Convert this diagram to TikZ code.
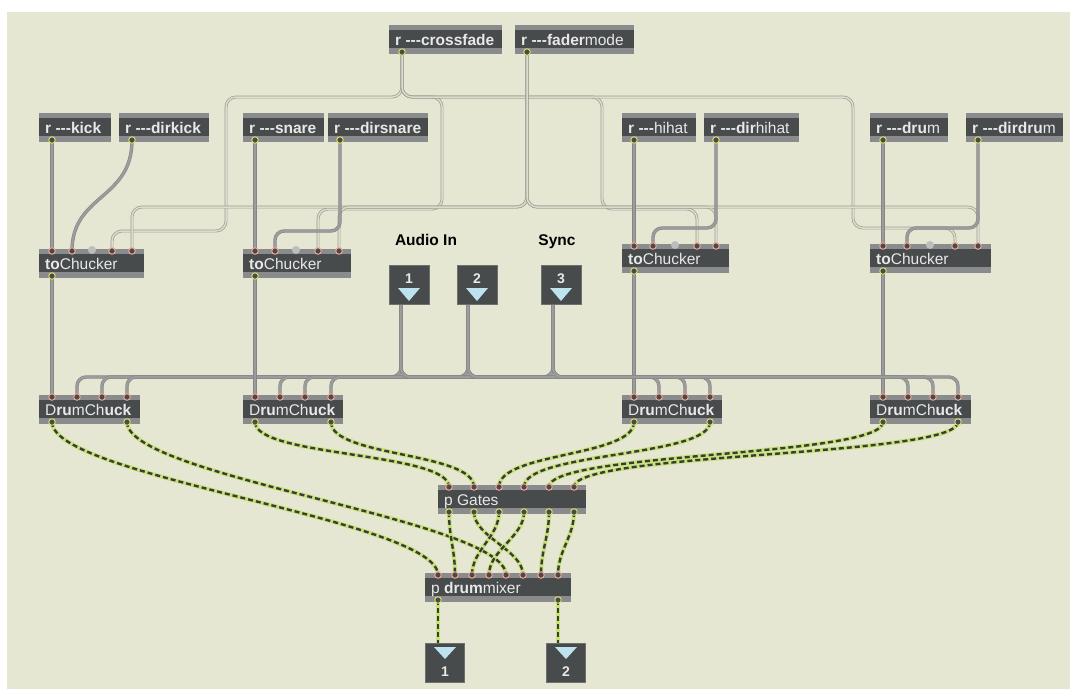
\documentclass[tikz,border=0pt]{standalone}
\usepackage{fontspec}
\setmainfont{Liberation Sans}[Ligatures=TeXOff]
\usetikzlibrary{calc}

\definecolor{bgbeige}{HTML}{E5E7D2}
\definecolor{boxdark}{HTML}{474B4B}
\definecolor{stripgray}{HTML}{8A8B8C}
\definecolor{objtxt}{HTML}{E8E8E8}
\definecolor{inpink}{HTML}{F2A595}
\definecolor{outyel}{HTML}{D8DA6C}
\definecolor{deadgray}{HTML}{BDBDBD}
\definecolor{ctlcord}{HTML}{9C9C9C}
\definecolor{ctledge}{HTML}{868686}
\definecolor{msgedge}{HTML}{9E9E95}
\definecolor{msgfill}{HTML}{DCDDCB}
\definecolor{sigbase}{HTML}{C8E27C}
\definecolor{sigdash}{HTML}{3A3D36}
\definecolor{tri}{HTML}{BEE3EF}
\definecolor{iogray}{HTML}{6E7070}

\pgfdeclarelayer{back}
\pgfdeclarelayer{cords}
\pgfsetlayers{back,cords,main}

\tikzset{
  objbox/.style={fill=stripgray, draw=none, minimum height=29pt, inner sep=0pt,
    anchor=north west,
    path picture={\fill[boxdark] ([yshift=-5pt]path picture bounding box.north west)
      rectangle ([yshift=6pt]path picture bounding box.south east);}},
  objtext/.style={text=objtxt, font=\fontsize{15.5}{16}\selectfont, anchor=base west, inner sep=0pt},
  inring/.style={circle, draw=inpink, fill=boxdark, line width=1pt, minimum size=6.5pt, inner sep=0pt},
  outring/.style={circle, draw=outyel, fill=boxdark, line width=1pt, minimum size=6.5pt, inner sep=0pt},
  deadin/.style={circle, fill=deadgray, minimum size=8pt, inner sep=0pt},
  iobox/.style={fill=boxdark, draw=iogray, line width=0.8pt, minimum width=40pt,
    minimum height=39pt, inner sep=0pt, anchor=north west},
  ionum/.style={text=objtxt, font=\bfseries\fontsize{14}{14}\selectfont, anchor=base, inner sep=0pt},
  label/.style={text=black, font=\bfseries\fontsize{15.5}{16}\selectfont, anchor=base, inner sep=0pt},
  ctl/.style={draw=ctledge, line width=0.6pt, double=ctlcord, double distance=2.2pt},
  msgcord/.style={draw=msgedge, line width=0.7pt, double=msgfill, double distance=1.5pt, rounded corners=10pt},
  sig/.style={draw=sigbase, line width=4.2pt,
    postaction={draw=sigdash, line width=2.4pt, dash pattern=on 5pt off 3pt}},
}

% a patcher object: name, x, y, width, text
\newcommand\patchobj[5]{%
  \node[objbox, minimum width=#4pt] (#1) at (#2,#3) {};
  \node[objtext] (#1-t) at (#2+6,#3+20) {#5};}
\newcommand\inp[3]{\node[inring] (#1) at (#2,#3) {};}
\newcommand\outp[3]{\node[outring] (#1) at (#2,#3) {};}
\newcommand\deadp[3]{\node[deadin] (#1) at (#2,#3) {};}
\newcommand\sigcord[3]{\draw[sig] (#1.center) .. controls ($(#1.center)+(0,#3)$)
  and ($(#2.center)+(0,-#3)$) .. (#2.center);}

\begin{document}
\begin{tikzpicture}[x=1pt,y=-1pt]
\useasboundingbox (0,0) rectangle (1070,689);
\begin{pgfonlayer}{back}
  \fill[white] (0,0) rectangle (1070,689);
  \fill[bgbeige] (7,12) rectangle (1070,689);
\end{pgfonlayer}

% routing levels
\coordinate (lv97) at (0,97);
\coordinate (lv207) at (0,207);
\coordinate (lv209) at (0,209);
\coordinate (lv228) at (0,228);
\coordinate (lv231) at (0,231);
\coordinate (bus) at (0,377);
\coordinate (xA) at (226,0);
\coordinate (xB) at (442,0);
\coordinate (xC) at (602,0);
\coordinate (xD) at (853,0);

% receive objects
\patchobj{cf}{389}{25}{113}{\textbf{r ---crossfade}}
\patchobj{fm}{515}{25}{119}{\textbf{r ---fader}mode}
\patchobj{kick}{39}{113}{72}{\textbf{r ---kick}}
\patchobj{dirkick}{119}{113}{90}{\textbf{r ---dirkick}}
\patchobj{snare}{243}{113}{81}{\textbf{r ---snare}}
\patchobj{dirsnare}{328}{113}{100}{\textbf{r ---dirsnare}}
\patchobj{hihat}{622}{113}{74}{\textbf{r ---}hihat}
\patchobj{dirhihat}{704}{113}{95}{\textbf{r ---dir}hihat}
\patchobj{drum}{870}{113}{78}{\textbf{r ---dru}m}
\patchobj{dirdrum}{966}{113}{97}{\textbf{r ---dirdru}m}
\outp{cf-o}{402}{52}
\outp{fm-o}{527}{52}
\outp{kick-o}{52}{140}
\outp{dirkick-o}{132}{140}
\outp{snare-o}{255}{140}
\outp{dirsnare-o}{340}{140}
\outp{hihat-o}{634}{140}
\outp{dirhihat-o}{716}{140}
\outp{drum-o}{883}{140}
\outp{dirdrum-o}{978}{140}

% toChucker objects
\patchobj{tc1}{39}{249}{105}{\textbf{to}Chucker}
\patchobj{tc2}{243}{249}{108}{\textbf{to}Chucker}
\patchobj{tc3}{622}{244}{107}{\textbf{to}Chucker}
\patchobj{tc4}{870}{244}{121}{\textbf{to}Chucker}
\inp{tc1-i1}{52}{251}\inp{tc1-i2}{72}{251}\deadp{tc1-i3}{92}{250}\inp{tc1-i4}{112}{251}\inp{tc1-i5}{132}{251}
\inp{tc2-i1}{255}{251}\inp{tc2-i2}{275}{251}\deadp{tc2-i3}{296}{250}\inp{tc2-i4}{318}{251}\inp{tc2-i5}{339}{251}
\inp{tc3-i1}{634}{246}\inp{tc3-i2}{653}{246}\deadp{tc3-i3}{675}{245}\inp{tc3-i4}{697}{246}\inp{tc3-i5}{716}{246}
\inp{tc4-i1}{883}{246}\inp{tc4-i2}{907}{246}\deadp{tc4-i3}{930}{245}\inp{tc4-i4}{955}{246}\inp{tc4-i5}{978}{246}
\outp{tc1-o}{52}{276}\outp{tc2-o}{255}{276}\outp{tc3-o}{634}{271}\outp{tc4-o}{883}{271}

% audio and sync inlets
\node[label] (audiolbl) at (426,245) {Audio In};
\node[label] (synclbl) at (557,245) {Sync};
\node[iobox] (ain1) at (389,265) {};
\node[iobox] (ain2) at (457,265) {};
\node[iobox] (ain3) at (541,265) {};
\node[ionum] (ain1-n) at (409,283) {1};
\node[ionum] (ain2-n) at (477,283) {2};
\node[ionum] (ain3-n) at (561,283) {3};
\fill[tri] (398,288) -- (420,288) -- (409,301) -- cycle;
\fill[tri] (466,288) -- (488,288) -- (477,301) -- cycle;
\fill[tri] (550,288) -- (572,288) -- (561,301) -- cycle;
\coordinate (ain1-o) at (401,304);
\coordinate (ain2-o) at (468,304);
\coordinate (ain3-o) at (553,304);

% DrumChuck objects
\patchobj{dc1}{39}{395}{101}{D\textbf{ru}mCh\textbf{uck}}
\patchobj{dc2}{243}{395}{100}{D\textbf{ru}mCh\textbf{uck}}
\patchobj{dc3}{622}{395}{100}{D\textbf{ru}mCh\textbf{uck}}
\patchobj{dc4}{870}{395}{101}{D\textbf{ru}mCh\textbf{uck}}
\inp{dc1-i1}{52}{397}\inp{dc1-i2}{77}{397}\inp{dc1-i3}{102}{397}\inp{dc1-i4}{127}{397}
\inp{dc2-i1}{255}{397}\inp{dc2-i2}{280}{397}\inp{dc2-i3}{305}{397}\inp{dc2-i4}{331}{397}
\inp{dc3-i1}{634}{397}\inp{dc3-i2}{659}{397}\inp{dc3-i3}{685}{397}\inp{dc3-i4}{710}{397}
\inp{dc4-i1}{883}{397}\inp{dc4-i2}{908}{397}\inp{dc4-i3}{933}{397}\inp{dc4-i4}{958}{397}
\outp{dc1-o1}{52}{422}\outp{dc1-o2}{127}{422}
\outp{dc2-o1}{255}{422}\outp{dc2-o2}{331}{422}
\outp{dc3-o1}{634}{422}\outp{dc3-o2}{710}{422}
\outp{dc4-o1}{883}{422}\outp{dc4-o2}{958}{422}

% gates and mixer
\patchobj{gates}{438}{485}{148}{p Gates}
\foreach \i/\x in {1/449,2/474,3/499,4/524,5/549,6/574}{
  \inp{g-i\i}{\x}{487}\outp{g-o\i}{\x}{512}}
\patchobj{mix}{425}{573}{146}{p \textbf{drum}mixer}
\foreach \i/\x in {1/438,2/455,3/472,4/489,5/506,6/523,7/541,8/558}{
  \inp{m-i\i}{\x}{575}}
\outp{m-o1}{438}{600}\outp{m-o2}{558}{600}

% outlets
\node[iobox, minimum width=39pt] (aout1) at (425,643) {};
\node[iobox, minimum width=39pt] (aout2) at (546,643) {};
\fill[tri] (434,647) -- (456,647) -- (445,659) -- cycle;
\fill[tri] (555,647) -- (577,647) -- (566,659) -- cycle;
\node[ionum] (aout1-n) at (445,676) {1};
\node[ionum] (aout2-n) at (566,676) {2};
\coordinate (aout1-i) at (438,644);
\coordinate (aout2-i) at (558,644);

\begin{pgfonlayer}{cords}
  % crossfade / fadermode message cords
  \draw[msgcord] (cf-o.center) -- (cf-o |- lv97) -- (xA |- lv97) -- (xA |- lv231) -- (tc1-i4 |- lv231) -- (tc1-i4.center);
  \draw[msgcord] (cf-o.center) -- (cf-o |- lv97) -- (xB |- lv97) -- (xB |- lv209) -- (tc2-i4 |- lv209) -- (tc2-i4.center);
  \draw[msgcord] (cf-o.center) -- (cf-o |- lv97) -- (xC |- lv97) -- (xC |- lv209) -- (tc3-i4 |- lv209) -- (tc3-i4.center);
  \draw[msgcord] (cf-o.center) -- (cf-o |- lv97) -- (xD |- lv97) -- (xD |- lv228) -- (tc4-i4 |- lv228) -- (tc4-i4.center);
  \foreach \t in {tc1,tc2,tc3,tc4}{
    \draw[msgcord] (fm-o.center) -- (fm-o |- lv207) -- (\t-i5 |- lv207) -- (\t-i5.center);}

  % control cords
  \draw[ctl] (kick-o.center) -- (tc1-i1.center);
  \draw[ctl] (dirkick-o.center) .. controls ($(dirkick-o.center)+(0,60)$) and ($(tc1-i2.center)+(0,-57)$) .. (tc1-i2.center);
  \draw[ctl] (snare-o.center) -- (tc2-i1.center);
  \draw[ctl, rounded corners=9pt] (dirsnare-o.center) -- (dirsnare-o |- lv231) -- (tc2-i2 |- lv231) -- (tc2-i2.center);
  \draw[ctl] (hihat-o.center) -- (tc3-i1.center);
  \draw[ctl, rounded corners=9pt] (dirhihat-o.center) -- (dirhihat-o |- lv228) -- (tc3-i2 |- lv228) -- (tc3-i2.center);
  \draw[ctl] (drum-o.center) -- (tc4-i1.center);
  \draw[ctl, rounded corners=9pt] (dirdrum-o.center) -- (dirdrum-o |- lv228) -- (tc4-i2 |- lv228) -- (tc4-i2.center);
  \foreach \k in {1,2,3,4}{
    \draw[ctl] (tc\k-o.center) -- (dc\k-i1.center);
    \draw[ctl, rounded corners=9pt] (ain1-o) -- (ain1-o |- bus) -- (dc\k-i2 |- bus) -- (dc\k-i2.center);
    \draw[ctl, rounded corners=9pt] (ain2-o) -- (ain2-o |- bus) -- (dc\k-i3 |- bus) -- (dc\k-i3.center);
    \draw[ctl, rounded corners=9pt] (ain3-o) -- (ain3-o |- bus) -- (dc\k-i4 |- bus) -- (dc\k-i4.center);}

  % signal cords
  \sigcord{dc1-o1}{m-i1}{55}
  \sigcord{dc1-o2}{m-i5}{55}
  \sigcord{dc2-o1}{g-i1}{35}
  \sigcord{dc2-o2}{g-i2}{35}
  \sigcord{dc3-o1}{g-i3}{35}
  \sigcord{dc3-o2}{g-i4}{35}
  \sigcord{dc4-o1}{g-i5}{35}
  \sigcord{dc4-o2}{g-i6}{35}
  \sigcord{g-o1}{m-i2}{25}
  \sigcord{g-o2}{m-i6}{25}
  \sigcord{g-o3}{m-i3}{25}
  \sigcord{g-o4}{m-i4}{25}
  \sigcord{g-o5}{m-i7}{25}
  \sigcord{g-o6}{m-i8}{25}
  \draw[sig] (m-o1.center) -- (aout1-i);
  \draw[sig] (m-o2.center) -- (aout2-i);
\end{pgfonlayer}
\end{tikzpicture}
\end{document}
